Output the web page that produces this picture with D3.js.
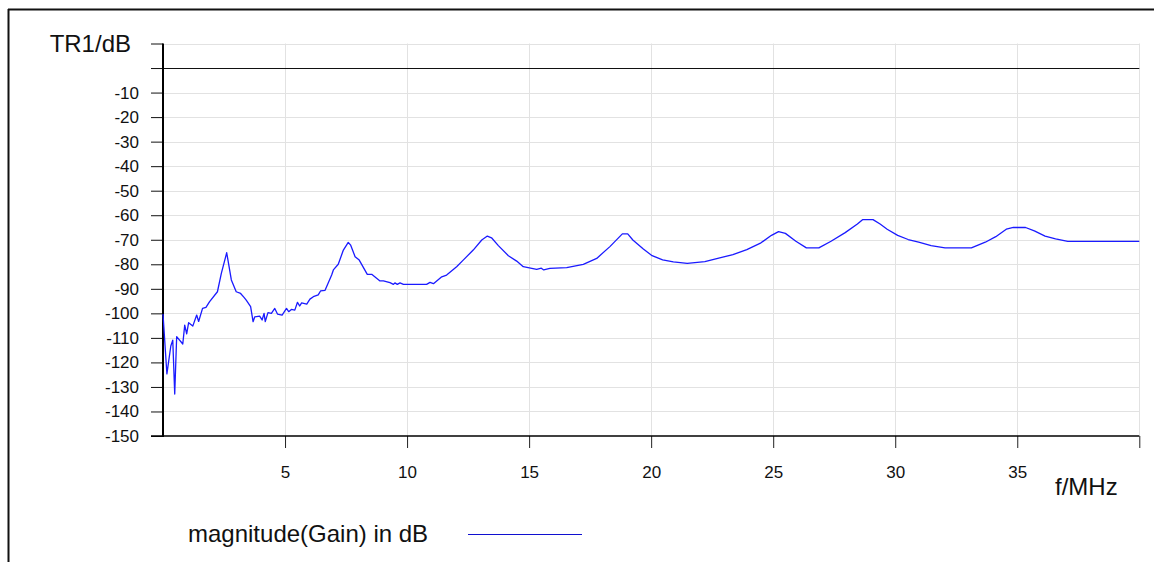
<!DOCTYPE html>
<html>
<head>
<meta charset="utf-8">
<script src="https://cdn.jsdelivr.net/npm/d3@7"></script>
<style>
  html, body { margin: 0; padding: 0; background: #fff; }
  svg { display: block; font-family: Arial, "Liberation Sans", sans-serif; }
</style>
</head>
<body>
<svg id="chart" width="1154" height="562"></svg>
<script>
// ---- data ----
const freqMHz = [0.00,0.16,0.32,0.40,0.48,0.56,0.81,0.89,0.97,1.05,1.22,1.38,1.46,1.62,1.76,1.91,2.23,2.39,2.61,2.80,
  3.00,3.18,3.32,3.41,3.59,3.69,3.76,3.96,4.06,4.14,4.19,4.30,4.44,4.58,4.69,4.88,5.06,5.15,5.26,5.40,
  5.51,5.60,5.68,5.89,6.02,6.16,6.36,6.46,6.64,6.91,6.98,7.18,7.39,7.59,7.69,7.87,8.04,8.37,8.55,8.89,
  9.03,9.30,9.44,9.50,9.60,9.71,9.85,10.80,10.94,11.08,11.42,11.62,12.03,12.30,12.71,13.06,13.29,13.46,13.74,14.15,
  14.49,14.76,15.31,15.50,15.60,15.85,16.54,17.22,17.77,18.31,18.82,19.04,19.25,19.68,20.04,20.47,20.91,21.48,22.20,22.77,
  23.35,23.92,24.50,24.93,25.22,25.50,25.93,26.36,26.87,27.37,27.95,28.45,28.66,29.09,29.38,29.67,30.10,30.53,30.96,31.47,
  32.04,33.12,33.69,34.12,34.55,34.84,35.34,35.70,36.14,36.57,37.07,40.00];
const gainDb = [-100.3,-124.7,-113.3,-110.9,-132.9,-109.5,-112.5,-104.8,-108.4,-103.8,-105.2,-100.7,-103.3,-98.0,-97.6,-95.2,-91.2,-83.7,-75.3,-86.4,
  -91.2,-91.9,-93.5,-94.6,-97.3,-103.4,-101.4,-101.1,-102.7,-100.0,-103.4,-99.7,-100.0,-98.0,-100.3,-100.7,-98.0,-99.3,-98.4,-98.7,
  -95.5,-97.0,-95.7,-96.2,-94.2,-93.2,-92.5,-90.8,-90.6,-84.4,-82.3,-80.0,-74.2,-71.1,-72.2,-76.9,-78.3,-84.1,-84.1,-86.8,
  -86.8,-87.5,-88.2,-87.6,-88.2,-87.6,-88.2,-88.2,-87.4,-87.9,-85.1,-84.4,-81.0,-78.3,-74.2,-70.1,-68.5,-69.2,-72.4,-76.5,
  -78.7,-81.0,-82.1,-81.6,-82.3,-81.7,-81.4,-80.0,-77.6,-72.8,-67.6,-67.6,-70.1,-73.75,-76.5,-78.2,-79.0,-79.6,-78.9,-77.5,
  -76.1,-74.0,-71.25,-68.2,-66.7,-67.4,-70.6,-73.3,-73.3,-70.6,-67.1,-63.6,-61.8,-61.8,-63.6,-65.7,-68.2,-69.9,-71.0,-72.4,
  -73.3,-73.3,-71.0,-68.75,-65.7,-65.0,-65.0,-66.4,-68.5,-69.6,-70.7,-70.7];
const yTicks = [-150,-140,-130,-120,-110,-100,-90,-80,-70,-60,-50,-40,-30,-20,-10,0,10];
const yTickLabels = ["-150","-140","-130","-120","-110","-100","-90","-80","-70","-60","-50","-40","-30","-20","-10","",""];
const xTicks = [5,10,15,20,25,30,35,40];
const xTickLabels = ["5","10","15","20","25","30","35",""];
const yAxisTitle = "TR1/dB";
const xAxisTitle = "f/MHz";
const seriesName = "magnitude(Gain) in dB";

// ---- layout ----
const svg = d3.select("#chart");
const L = 163, R = 1139.3, T = 43.5, B = 436;
const x = d3.scaleLinear().domain([0, 40]).range([L, R]);
const y = d3.scaleLinear().domain([-150, 10]).range([B, T]);

// outer frame (top + left)
svg.append("line").attr("x1", 8).attr("x2", 1154).attr("y1", 9.5).attr("y2", 9.5)
  .attr("stroke", "#111").attr("stroke-width", 2);
svg.append("line").attr("x1", 8.5).attr("x2", 8.5).attr("y1", 9).attr("y2", 562)
  .attr("stroke", "#111").attr("stroke-width", 2);

// grid
const grid = svg.append("g");
grid.selectAll("line.h").data(yTicks.filter(d => d !== -150)).join("line")
  .attr("x1", L).attr("x2", R)
  .attr("y1", d => Math.round(y(d)) + 0.5).attr("y2", d => Math.round(y(d)) + 0.5)
  .attr("stroke", "#e2e2e2").attr("stroke-width", 1);
grid.selectAll("line.v").data(xTicks).join("line")
  .attr("y1", T).attr("y2", B)
  .attr("x1", d => Math.round(x(d)) + 0.5).attr("x2", d => Math.round(x(d)) + 0.5)
  .attr("stroke", "#e2e2e2").attr("stroke-width", 1);

// zero line
svg.append("line").attr("x1", L).attr("x2", R)
  .attr("y1", Math.round(y(0)) + 0.5).attr("y2", Math.round(y(0)) + 0.5)
  .attr("stroke", "#111").attr("stroke-width", 1);

// y axis
const yAxis = d3.axisLeft(y).tickValues(yTicks).tickSize(12).tickPadding(12)
  .tickFormat((d, i) => yTickLabels[i]);
const gy = svg.append("g").attr("transform", `translate(${L},0)`).call(yAxis);
gy.select(".domain").remove();
gy.selectAll(".tick line").attr("stroke", "#111");
gy.selectAll(".tick text").attr("font-size", 17).attr("fill", "#111")
  .attr("font-family", "Arial, 'Liberation Sans', sans-serif");
svg.append("line").attr("x1", L).attr("x2", L).attr("y1", T).attr("y2", B + 1)
  .attr("stroke", "#000").attr("stroke-width", 2);

// x axis
const xAxis = d3.axisBottom(x).tickValues(xTicks).tickSize(12).tickPadding(18)
  .tickFormat((d, i) => xTickLabels[i]);
const gx = svg.append("g").attr("transform", `translate(0,${B})`).call(xAxis);
gx.select(".domain").remove();
gx.selectAll(".tick line").attr("stroke", "#222");
gx.selectAll(".tick text").attr("font-size", 17).attr("fill", "#111")
  .attr("font-family", "Arial, 'Liberation Sans', sans-serif");
svg.append("line").attr("x1", L - 12).attr("x2", R).attr("y1", B).attr("y2", B)
  .attr("stroke", "#000").attr("stroke-width", 1.5);

// titles
svg.append("text").attr("x", 131).attr("y", 52).attr("text-anchor", "end")
  .attr("font-size", 24).attr("fill", "#111").text(yAxisTitle);
svg.append("text").attr("x", 1055).attr("y", 495)
  .attr("font-size", 24).attr("fill", "#111").text(xAxisTitle);

// series
const pts = freqMHz.map((f, i) => [f, gainDb[i]]);
const line = d3.line().x(d => x(d[0])).y(d => y(d[1]));
svg.append("path").datum(pts).attr("d", line)
  .attr("fill", "none").attr("stroke", "#1a1aff").attr("stroke-width", 1.3)
  .attr("stroke-linejoin", "round");

// legend
svg.append("text").attr("x", 188).attr("y", 542)
  .attr("font-size", 24).attr("fill", "#111").text(seriesName);
svg.append("line").attr("x1", 468).attr("x2", 582).attr("y1", 534.5).attr("y2", 534.5)
  .attr("stroke", "#1010d0").attr("stroke-width", 1.2);
</script>
</body>
</html>
